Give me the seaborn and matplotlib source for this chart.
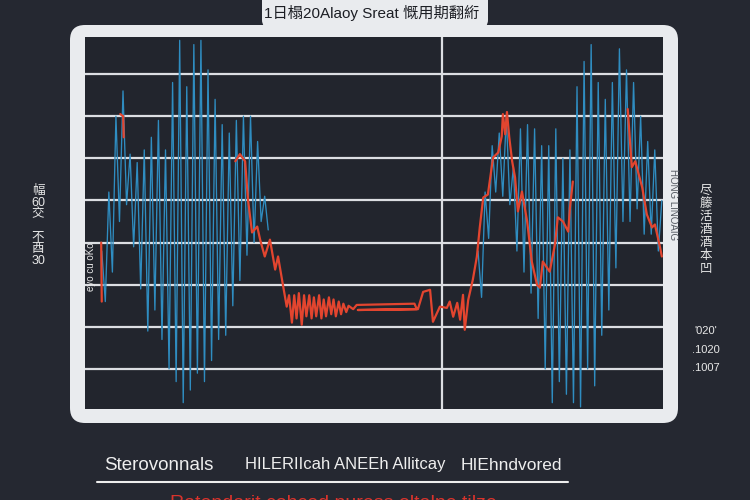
import numpy as np
import pandas as pd
import matplotlib.pyplot as plt
import seaborn as sns
from matplotlib.patches import FancyBboxPatch

# signal data (time 0-100, amplitude units with grid at 1..8)
burst1_vals = [3.8, 2.6, 5.2, 3.3, 7.0, 4.5, 7.6, 4.9, 6.1, 3.9,
               5.9, 2.9, 6.2, 1.9, 6.5, 2.4, 6.9, 1.7, 6.2, 1.0,
               7.8, 0.7, 8.8, 0.2, 7.7, 0.5, 8.7, 0.9, 8.8, 0.7,
               8.1, 1.2, 7.4, 1.7, 6.8, 1.8, 6.6, 2.5, 6.9, 3.1,
               7.0, 3.7, 7.0, 4.0, 6.4, 4.5, 5.1, 4.3]
burst2_vals = [3.8, 2.7, 5.2, 4.1, 6.3, 5.2, 6.6, 5.1, 7.0, 4.9,
               5.8, 3.8, 6.7, 3.3, 6.8, 2.8, 6.7, 2.2, 6.3, 1.0,
               6.3, 0.2, 6.7, 0.7, 6.0, 0.4, 6.2, 0.2, 7.7, 0.1,
               8.3, 1.0, 8.7, 0.6, 7.8, 1.8, 7.4, 2.4, 7.8, 3.4,
               8.6, 4.5, 8.1, 4.5, 7.8, 4.8, 7.0, 4.2, 6.4, 4.2,
               6.2, 3.8, 5.0]
burst1_t = np.linspace(2.9, 31.7, len(burst1_vals))
burst2_t = np.linspace(68.0, 99.8, len(burst2_vals))

red_a_t = [2.8, 2.9]
red_a_y = [4.0, 2.6]
red_b_t = [6.1, 6.6, 6.7]
red_b_y = [7.05, 7.0, 6.5]
red_c_t = [26.0, 26.8, 27.7, 28.2, 28.9, 29.8, 30.3, 31.1, 32.0, 32.9,
           33.4, 34.3, 34.9, 35.3, 35.8, 36.2, 36.6, 37.0, 37.5, 37.9,
           38.3, 38.8, 39.2, 39.6, 40.0, 40.5, 40.9, 41.3, 41.7, 42.2,
           42.6, 43.0, 43.4, 43.9, 44.3, 44.7, 45.2, 45.6, 46.4, 47.0,
           57.0, 57.4, 47.2, 57.6, 58.5, 59.7, 60.2, 61.4, 62.6, 63.1,
           63.7, 64.4, 64.9, 65.4, 65.7, 66.3, 67.1, 67.8, 68.3, 68.9,
           69.7, 70.6, 71.5, 72.1, 72.3, 72.7, 73.0, 73.4, 73.9, 74.4,
           74.9, 75.6, 76.5, 77.3, 78.2, 78.7, 79.2, 80.4, 81.3, 81.8,
           82.7, 83.6, 83.9, 84.4]
red_c_y = [5.93, 6.10, 5.93, 5.02, 4.24, 4.38, 4.07, 3.67, 4.07, 3.36,
           3.67, 2.95, 2.48, 2.75, 2.10, 2.75, 2.20, 2.80, 2.05, 2.75,
           2.25, 2.75, 2.20, 2.70, 2.25, 2.75, 2.20, 2.65, 2.25, 2.70,
           2.30, 2.65, 2.25, 2.60, 2.30, 2.55, 2.35, 2.50, 2.42, 2.52,
           2.55, 2.42, 2.40, 2.42, 2.83, 2.88, 2.12, 2.48, 2.45, 2.60,
           2.24, 2.57, 2.17, 2.76, 1.93, 2.64, 3.12, 3.67, 4.36, 5.07,
           5.14, 6.02, 6.14, 6.52, 7.05, 6.57, 7.10, 6.50, 5.93, 5.55,
           4.74, 5.21, 4.50, 3.55, 3.00, 2.93, 3.55, 3.31, 3.95, 4.60,
           4.50, 4.26, 4.83, 5.45]
red_d_t = [93.9, 94.6, 95.2, 96.4, 97.2, 98.1, 98.6, 99.5, 99.8]
red_d_y = [7.17, 5.79, 5.93, 5.31, 4.67, 4.36, 4.43, 3.88, 3.67]

blue = pd.concat([
    pd.DataFrame({'t': burst1_t, 'v': burst1_vals, 'seg': 0}),
    pd.DataFrame({'t': burst2_t, 'v': burst2_vals, 'seg': 1}),
])
red = pd.concat([
    pd.DataFrame({'t': red_a_t, 'v': red_a_y, 'seg': 0}),
    pd.DataFrame({'t': red_b_t, 'v': red_b_y, 'seg': 1}),
    pd.DataFrame({'t': red_c_t, 'v': red_c_y, 'seg': 2}),
    pd.DataFrame({'t': red_d_t, 'v': red_d_y, 'seg': 3}),
])

BG = '#252831'
PANEL = '#22252d'
FRAME = '#e9ebee'

sns.set_theme(style='dark')
plt.rcParams['font.family'] = ['Liberation Sans', 'Noto Sans CJK SC', 'DejaVu Sans']

fig = plt.figure(figsize=(7.5, 5), dpi=100, facecolor=BG)

# light frame around the plot
fig.patches.append(FancyBboxPatch((0.70, 0.77), 6.08, 3.98,
                                  boxstyle='round,pad=0,rounding_size=0.15',
                                  transform=fig.dpi_scale_trans,
                                  facecolor=FRAME, edgecolor='none', zorder=0))
# title tab
fig.patches.append(FancyBboxPatch((2.62, 4.72), 2.26, 0.5,
                                  boxstyle='round,pad=0,rounding_size=0.08',
                                  transform=fig.dpi_scale_trans,
                                  facecolor=FRAME, edgecolor='none', zorder=0))

ax = fig.add_axes([85 / 750, 91 / 500, 578 / 750, 372 / 500])
ax.set_zorder(2)
ax.set_facecolor(PANEL)

sns.lineplot(data=blue, x='t', y='v', units='seg', estimator=None, sort=False,
             color='#2f8dc1', lw=0.95, ax=ax)
sns.lineplot(data=red, x='t', y='v', units='seg', estimator=None, sort=False,
             color='#e3452f', lw=1.6, ax=ax)

ax.set_xlim(0, 100)
ax.set_ylim(0.05, 8.88)
ax.set_yticks(range(1, 9))
ax.set_xticks([61.8])
ax.set_axisbelow(True)
ax.grid(True, color='#dcdee2', lw=1.6)
ax.tick_params(length=0, labelleft=False, labelbottom=False)
ax.set_xlabel('')
ax.set_ylabel('')
for s in ax.spines.values():
    s.set_visible(False)

def px(x, y):
    return x / 750, 1 - y / 500

fig.text(*px(372, 13), '1日榻20Alaoy Sreat 慨用期翻絎', ha='center', va='center',
         fontsize=11, color='#1c1e24', zorder=5)

# left side labels
fig.text(*px(38, 226), '幅\n60\n交\n\n不\n酉\n30', ha='center', va='center',
         fontsize=9, color='#e8e8e8', linespacing=0.95)
fig.text(*px(91, 267), 'eyo cu oKo', ha='center', va='center', rotation=90,
         fontsize=7, color='#e8e8e8', zorder=5)

# right side labels
fig.text(*px(673, 205), 'HONG LINOAIG', ha='center', va='center', rotation=270,
         fontsize=7, color='#555a62', zorder=5)
fig.text(*px(706, 230), '尽\n籐\n活\n酒\n酒\n本\n凹', ha='center', va='center',
         fontsize=9, color='#e8e8e8', linespacing=1.1)
for yy, lab in [(331, "'020'"), (350, '.1020'), (368, '.1007')]:
    fig.text(*px(706, yy), lab, ha='center', va='center', fontsize=8, color='#e8e8e8')

# bottom legend-like row
fig.text(*px(104, 465), 'Sterovonnals', ha='left', va='center', fontsize=13.5, color='#eeeeee')
fig.text(*px(245, 465), 'HILERIIcah ANEEh Allitcay', ha='left', va='center', fontsize=12, color='#eeeeee')
fig.text(*px(461, 465), 'HIEhndvored', ha='left', va='center', fontsize=12.5, color='#eeeeee')
fig.add_artist(plt.Line2D([97 / 750, 568 / 750], [1 - 482 / 500] * 2,
                          transform=fig.transFigure, color='#eeeeee', lw=1.5))
fig.text(*px(333, 503), 'Ratendarit cohced nuress oltalne tilze', ha='center', va='center',
         fontsize=14, color='#d8332c')

plt.savefig('out.png', dpi=100, facecolor=BG)
